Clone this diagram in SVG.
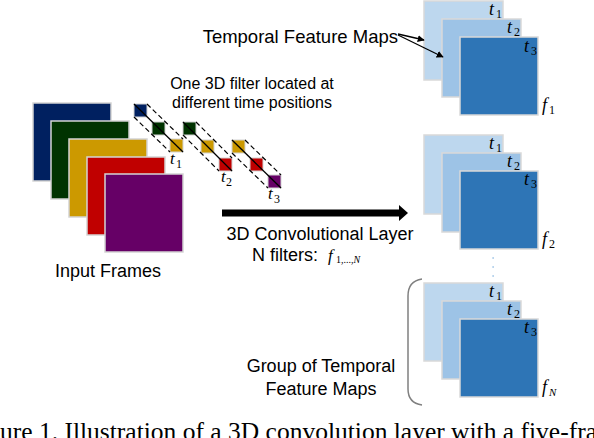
<svg xmlns="http://www.w3.org/2000/svg" width="594" height="438" viewBox="0 0 594 438">
<defs>
<style>
.lbl{font-family:"Liberation Sans",Arial,sans-serif;fill:#000}
.math{font-family:"Liberation Serif","Times New Roman",serif;font-style:italic;fill:#000}
.sub{font-family:"Liberation Serif","Times New Roman",serif;font-style:normal;fill:#000}
.frame{stroke:#d4d4d4;stroke-width:1.5}
.fsq{stroke:#d4d4d4;stroke-width:1}
.dash{stroke:#000;stroke-width:1.2;stroke-dasharray:5 3;fill:none}
.diag{stroke:#000;stroke-width:1.3;fill:none}
.map{stroke:#d9d9d9;stroke-width:1.5}
.m1{fill:#BDD7EE}.m2{fill:#9DC3E6}.m3{fill:#2E75B6}
.thin{stroke:#000;stroke-width:1.3;fill:none}
</style>
<marker id="ah" viewBox="0 0 10 10" refX="9" refY="5" markerWidth="7" markerHeight="7" markerUnits="userSpaceOnUse" orient="auto">
<path d="M0,0 L10,5 L0,10 Z" fill="#000"/>
</marker>
</defs>
<rect width="594" height="438" fill="#fff"/>

<g id="input-frames">
<rect class="frame" x="33" y="103" width="78" height="78" fill="#002060"/>
<rect class="frame" x="51" y="121" width="78" height="78" fill="#003300"/>
<rect class="frame" x="69" y="139" width="78" height="78" fill="#CC9900"/>
<rect class="frame" x="87" y="157" width="78" height="78" fill="#C00000"/>
<rect class="frame" x="105" y="174" width="78" height="78" fill="#660066"/>
<text class="lbl" x="108" y="277" font-size="18" text-anchor="middle">Input Frames</text>
</g>

<g id="filter-t1">
<rect class="fsq" x="134" y="104" width="13" height="13" fill="#002060"/>
<rect class="fsq" x="152" y="122" width="13" height="13" fill="#003300"/>
<rect class="fsq" x="170" y="139" width="13" height="13" fill="#CC9900"/>
<line class="dash" x1="147" y1="104" x2="183" y2="139"/>
<line class="dash" x1="134" y1="117" x2="170" y2="152"/>
<line class="diag" x1="134" y1="104" x2="183" y2="152"/>
<text class="math" x="170" y="164" font-size="17">t</text><text class="sub" x="176" y="168" font-size="12">1</text>
</g>
<g id="filter-t2">
<rect class="fsq" x="183" y="122" width="13" height="13" fill="#003300"/>
<rect class="fsq" x="201" y="140" width="13" height="13" fill="#CC9900"/>
<rect class="fsq" x="219" y="158" width="13" height="13" fill="#C00000"/>
<line class="dash" x1="196" y1="122" x2="232" y2="158"/>
<line class="dash" x1="183" y1="135" x2="219" y2="171"/>
<line class="diag" x1="183" y1="122" x2="232" y2="171"/>
<text class="math" x="221" y="182" font-size="17">t</text><text class="sub" x="226" y="186" font-size="12">2</text>
</g>
<g id="filter-t3">
<rect class="fsq" x="232" y="140" width="13" height="13" fill="#CC9900"/>
<rect class="fsq" x="250" y="158" width="13" height="13" fill="#C00000"/>
<rect class="fsq" x="268" y="175" width="13" height="13" fill="#660066"/>
<line class="dash" x1="245" y1="140" x2="281" y2="175"/>
<line class="dash" x1="232" y1="153" x2="268" y2="188"/>
<line class="diag" x1="232" y1="140" x2="281" y2="188"/>
<text class="math" x="268" y="199" font-size="17">t</text><text class="sub" x="274" y="203" font-size="12">3</text>
</g>

<g id="filter-label">
<text class="lbl" x="252" y="89" font-size="16" text-anchor="middle">One 3D filter located at</text>
<text class="lbl" x="252" y="108" font-size="16" text-anchor="middle">different time positions</text>
</g>

<g id="conv-label">
<text class="lbl" x="320" y="240" font-size="18" text-anchor="middle">3D Convolutional Layer</text>
<text class="lbl" x="252" y="261" font-size="18">N filters:</text>
<text class="math" x="328" y="261" font-size="17">f</text>
<text class="sub" x="336" y="263" font-size="10">1,...,<tspan font-style="italic">N</tspan></text>
</g>

<g id="temporal-label">
<text class="lbl" x="398" y="43" font-size="18.5" text-anchor="end">Temporal Feature Maps</text>
</g>

<g id="maps-f1">
<rect class="map m1" x="424" y="1" width="79" height="79"/>
<rect class="map m2" x="442" y="19" width="79" height="78"/>
<rect class="map m3" x="460" y="37" width="78" height="78"/>
<text class="math" x="489" y="15" font-size="18">t</text><text class="sub" x="496" y="18" font-size="12">1</text>
<text class="math" x="507" y="33" font-size="18">t</text><text class="sub" x="514" y="36" font-size="12">2</text>
<text class="math" x="524" y="52" font-size="18">t</text><text class="sub" x="531" y="55" font-size="12">3</text>
<text class="math" x="542" y="111" font-size="18">f</text><text class="sub" x="549" y="114" font-size="12">1</text>
</g>

<g id="maps-f2">
<rect class="map m1" x="424" y="135" width="79" height="79"/>
<rect class="map m2" x="442" y="153" width="79" height="79"/>
<rect class="map m3" x="460" y="171" width="78" height="78"/>
<text class="math" x="489" y="149" font-size="18">t</text><text class="sub" x="496" y="152" font-size="12">1</text>
<text class="math" x="507" y="167" font-size="18">t</text><text class="sub" x="514" y="170" font-size="12">2</text>
<text class="math" x="524" y="185" font-size="18">t</text><text class="sub" x="531" y="188" font-size="12">3</text>
<text class="math" x="542" y="245" font-size="18">f</text><text class="sub" x="549" y="248" font-size="12">2</text>
</g>

<g id="ellipsis-dots" fill="#9DC3E6">
<rect x="492.5" y="257" width="1.2" height="2"/>
<rect x="492.5" y="266" width="1.2" height="2"/>
<rect x="492.5" y="275" width="1.2" height="2"/>
</g>

<g id="maps-fN">
<rect class="map m1" x="424" y="283" width="79" height="78"/>
<rect class="map m2" x="442" y="301" width="79" height="78"/>
<rect class="map m3" x="460" y="319" width="78" height="78"/>
<text class="math" x="489" y="297" font-size="18">t</text><text class="sub" x="496" y="300" font-size="12">1</text>
<text class="math" x="507" y="315" font-size="18">t</text><text class="sub" x="514" y="318" font-size="12">2</text>
<text class="math" x="524" y="333" font-size="18">t</text><text class="sub" x="531" y="336" font-size="12">3</text>
<text class="math" x="542" y="393" font-size="18">f</text><text class="math" x="549" y="396" font-size="11">N</text>
</g>

<g id="group-label">
<path d="M422,279 Q408,281 408,296 L408,389 Q408,403 422,405" fill="none" stroke="#808080" stroke-width="1.5"/>
<text class="lbl" x="321" y="372" font-size="18" text-anchor="middle">Group of Temporal</text>
<text class="lbl" x="321" y="395" font-size="18" text-anchor="middle">Feature Maps</text>
</g>

<g id="connectors">
<path d="M222,209.5 L399,209.5 L399,205 L408,213 L399,221 L399,216.5 L222,216.5 Z" fill="#000"/>
<line class="thin" x1="398" y1="34" x2="424" y2="40" marker-end="url(#ah)"/>
<line class="thin" x1="398" y1="35" x2="443" y2="57" marker-end="url(#ah)"/>
</g>

<g id="caption">
<text x="-34" y="440" font-family="Liberation Serif,'Times New Roman',serif" font-size="25.5" word-spacing="0" fill="#000">Figure 1. Illustration of a 3D convolution layer with a five-frame</text>
</g>
</svg>
